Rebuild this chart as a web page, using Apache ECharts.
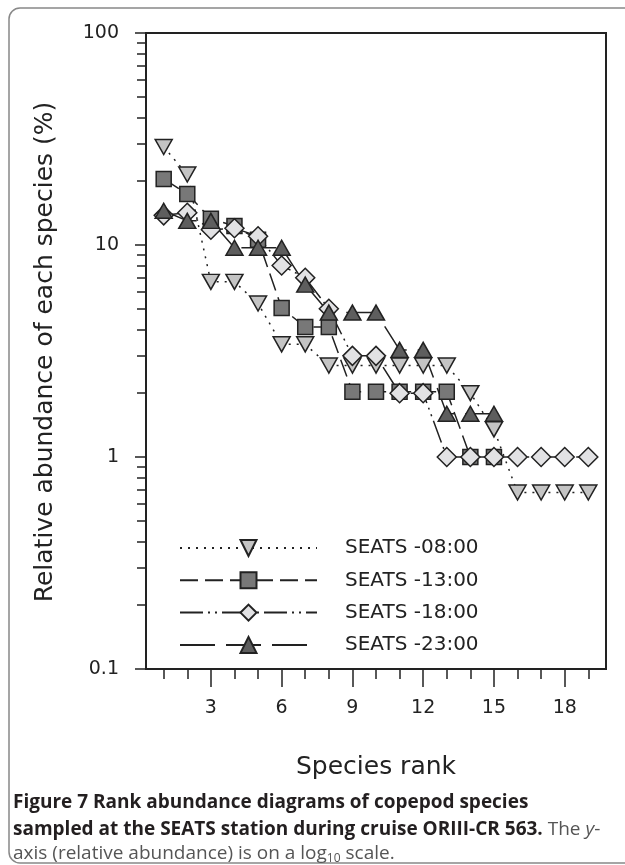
<!DOCTYPE html>
<html>
<head>
<meta charset="utf-8">
<script src="https://cdn.jsdelivr.net/npm/echarts@6/dist/echarts.min.js"></script>
<style>
  html, body { margin: 0; padding: 0; background: #fff; }
  #chart { width: 625px; height: 865px; }
</style>
</head>
<body>
<div id="chart"></div>
<script>
// species rank 1..19
const ranks = [1, 2, 3, 4, 5, 6, 7, 8, 9, 10, 11, 12, 13, 14, 15, 16, 17, 18, 19];
const seats08 = [29, 21.5, 6.7, 6.7, 5.3, 3.4, 3.4, 2.7, 2.7, 2.7, 2.7, 2.7, 2.7, 2.0, 1.35, 0.68, 0.68, 0.68, 0.68];
const seats13 = [20.5, 17.4, 13.3, 12.3, 10.6, 5.05, 4.1, 4.1, 2.03, 2.03, 2.03, 2.03, 2.03, 1.0, 1.0];
const seats18 = [13.8, 14.2, 11.8, 12.0, 11.0, 8.0, 7.0, 5.0, 3.0, 3.0, 2.0, 2.0, 1.0, 1.0, 1.0, 1.0, 1.0, 1.0, 1.0];
const seats23 = [14.5, 13.0, 13.0, 9.7, 9.7, 9.7, 6.5, 4.8, 4.8, 4.8, 3.2, 3.2, 1.6, 1.6, 1.6];
const seriesNames = ['SEATS -08:00', 'SEATS -13:00', 'SEATS -18:00', 'SEATS -23:00'];

const xMajor = [3, 6, 9, 12, 15, 18];
const yMajor = [0.1, 1, 10, 100];
const yMinor = [0.2, 0.3, 0.4, 0.5, 0.6, 0.7, 0.8, 0.9, 2, 3, 4, 5, 6, 7, 8, 9, 20, 30, 40, 50, 60, 70, 80, 90];

const pairs = (vals) => vals.map((v, i) => [ranks[i], v]);
const FONT = 'DejaVu Sans';
const INK = '#222';

const chart = echarts.init(document.getElementById('chart'), null, { renderer: 'canvas' });

const mkSeries = (name, vals, symbol, size, fill, dash, rotate) => ({
  name,
  type: 'line',
  data: pairs(vals),
  symbol,
  symbolSize: size,
  symbolRotate: rotate || 0,
  showAllSymbol: true,
  lineStyle: { color: INK, width: 1.5, type: dash },
  itemStyle: { color: fill, borderColor: INK, borderWidth: 1.5 },
  emphasis: { disabled: true },
  animation: false,
});

const captionBold = { fontFamily: 'Open Sans', fontWeight: 'bold', fontSize: 19, fill: '#231f20' };
const captionNorm = { fontFamily: 'Open Sans', fontSize: 19, fill: '#555' };

const option = {
  animation: false,
  grid: {
    left: 146, right: 19, top: 33, bottom: 196,
    show: true, borderColor: INK, borderWidth: 2,
  },
  legend: {
    data: seriesNames,
    orient: 'vertical',
    left: 174,
    top: 533,
    itemWidth: 137,
    itemHeight: 20,
    itemGap: 12.3,
    textStyle: { fontFamily: FONT, fontSize: 20, color: INK, padding: [0, 0, 0, 23] },
    selectedMode: false,
  },
  xAxis: [
    {
      type: 'value', min: 0.25, max: 19.75,
      axisLine: { lineStyle: { color: INK, width: 2 } },
      axisTick: { customValues: xMajor, length: 18, lineStyle: { color: INK, width: 1.5 } },
      axisLabel: { customValues: xMajor, margin: 30, fontFamily: FONT, fontSize: 19, color: INK },
      splitLine: { show: false },
    },
    {
      type: 'value', min: 0.25, max: 19.75, position: 'bottom',
      axisLine: { show: false },
      axisTick: { customValues: ranks, length: 10, lineStyle: { color: INK, width: 1.5 } },
      axisLabel: { show: false },
      splitLine: { show: false },
    },
  ],
  yAxis: [
    {
      type: 'log', logBase: 10, min: 0.1, max: 100,
      axisLine: { show: true, lineStyle: { color: INK, width: 2 } },
      axisTick: { show: true, customValues: yMajor, length: 11, lineStyle: { color: INK, width: 1.5 } },
      axisLabel: {
        customValues: yMajor, margin: 27, fontFamily: FONT, fontSize: 19, color: INK,
        formatter: (v) => String(v),
      },
      splitLine: { show: false },
    },
    {
      type: 'log', logBase: 10, min: 0.1, max: 100, position: 'left',
      axisLine: { show: false },
      axisTick: { show: true, customValues: yMinor, length: 9, lineStyle: { color: INK, width: 1.5 } },
      axisLabel: { show: false },
      splitLine: { show: false },
    },
  ],
  series: [
    mkSeries(seriesNames[0], seats08, 'triangle', [17, 15], '#c4c4c4', [2, 6], 180),
    mkSeries(seriesNames[1], seats13, 'rect', 15, '#787878', [18, 7]),
    mkSeries(seriesNames[2], seats18, 'diamond', 19, '#e2e2e4', [23, 5, 2, 5, 2, 5]),
    mkSeries(seriesNames[3], seats23, 'triangle', [17, 15], '#5e5e5e', [35, 11]),
  ],
  graphic: [
    {
      // figure frame
      type: 'rect', silent: true,
      shape: { x: 9, y: 8, width: 700, height: 855, r: 11 },
      style: { fill: 'none', stroke: '#888', lineWidth: 1.5 },
    },
    {
      type: 'text', x: 45, y: 352, rotation: Math.PI / 2,
      style: {
        text: 'Relative abundance of each species (%)',
        font: '25px "DejaVu Sans"', fill: INK, align: 'center', verticalAlign: 'middle',
      },
    },
    {
      type: 'text', x: 376, y: 767,
      style: {
        text: 'Species rank',
        font: '25px "DejaVu Sans"', fill: INK, align: 'center', verticalAlign: 'middle',
      },
    },
    {
      type: 'text', x: 13, y: 803,
      style: {
        text: '{b|Figure 7 Rank abundance diagrams of copepod species}',
        verticalAlign: 'middle',
        rich: { b: captionBold },
      },
    },
    {
      type: 'text', x: 13, y: 830,
      style: {
        text: '{b|sampled at the SEATS station during cruise ORIII-CR 563.}{n| The }{i|y}{n|-}',
        verticalAlign: 'middle',
        rich: {
          b: captionBold,
          n: captionNorm,
          i: Object.assign({}, captionNorm, { fontStyle: 'italic' }),
        },
      },
    },
    {
      type: 'text', x: 13, y: 854,
      style: {
        text: '{n|axis (relative abundance) is on a log}{s|10}{n| scale.}',
        verticalAlign: 'middle',
        rich: {
          n: captionNorm,
          s: { fontFamily: 'Open Sans', fontSize: 12, fill: '#555', padding: [10, 0, 0, 0] },
        },
      },
    },
  ],
};

chart.setOption(option);
</script>
</body>
</html>
